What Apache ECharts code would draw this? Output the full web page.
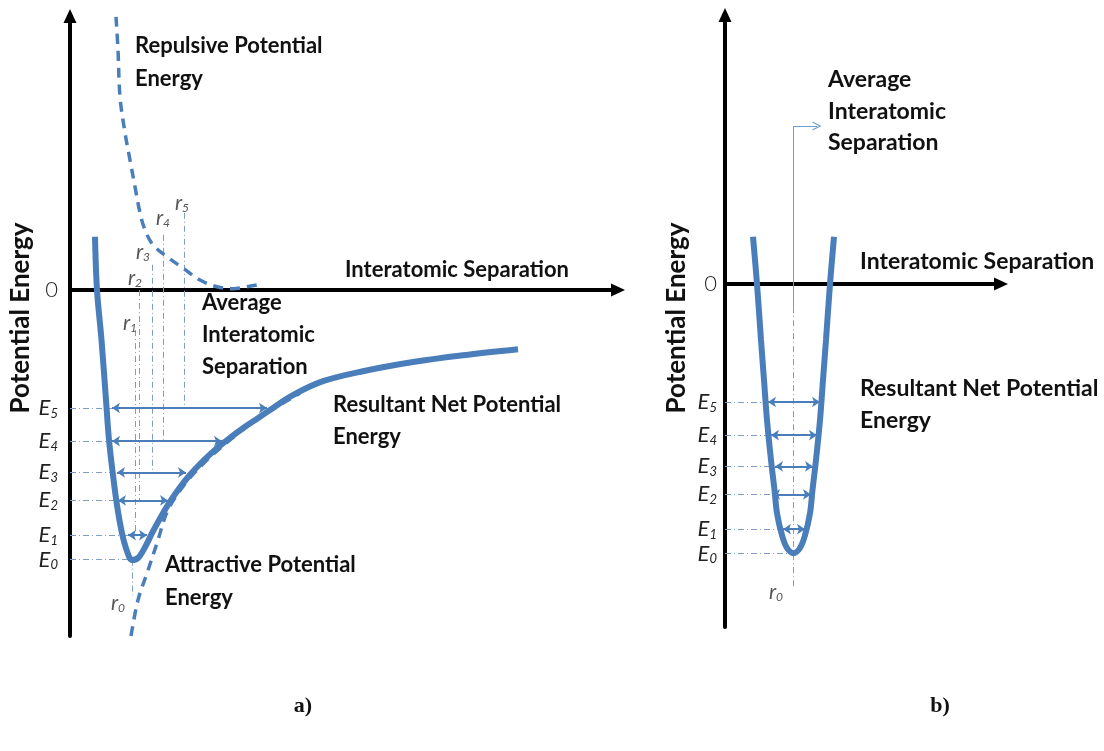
<!DOCTYPE html>
<html><head><meta charset="utf-8">
<script src="https://cdn.jsdelivr.net/npm/echarts@6/dist/echarts.min.js"></script>
<style>html,body{margin:0;padding:0;background:#fff}#c{width:1104px;height:751px}</style>
</head><body><div id="c"></div>
<script>
// ---------- Panel a data (x: separation units, y: energy units) ----------
const netA = [[0.5,1.33],[0.54,0],[0.63,-1.25],[0.72,-2.75],[0.78,-3.75],[0.86,-4.63],[0.94,-5.38],[1.04,-6.08],[1.14,-6.53],[1.24,-6.75],[1.36,-6.7],[1.5,-6.43],[1.64,-6.08],[1.8,-5.71],[2.0,-5.29],[2.2,-4.93],[2.4,-4.62],[2.6,-4.35],[2.8,-4.11],[3.0,-3.89],[3.25,-3.65],[3.5,-3.42],[3.75,-3.21],[4.0,-3.0],[4.44,-2.64],[5.06,-2.28],[5.86,-2.03],[6.86,-1.8],[7.86,-1.63],[8.96,-1.48]];
const repulsiveA = [[0.92,6.83],[0.96,6.0],[1.0,4.83],[1.1,3.93],[1.2,3.25],[1.3,2.58],[1.4,1.93],[1.5,1.5],[1.66,1.13],[1.94,0.83],[2.26,0.55],[2.6,0.25],[2.94,0.08],[3.26,0.03],[3.54,0.08],[3.76,0.13]];
const attractiveA = [[1.22,-8.65],[1.36,-7.75],[1.54,-7.08],[1.74,-6.33],[1.96,-5.5],[2.3,-4.85],[2.7,-4.3],[3.2,-3.75],[3.8,-3.18],[4.6,-2.58]];
const energyLevels = [-6.74,-6.13,-5.26,-4.56,-3.78,-2.95];          // E0..E5
const leaderEndA = [1.2,1.16,0.96,0.94,0.84,0.84];                    // E0..E5
const arrowLeftA = [1.16,0.96,0.94,0.84,0.84];                        // E1..E5 (tips)
const arrowRightA = [1.54,1.96,2.32,3.04,3.94];                       // E1..E5 (tips)
const rLineXA = [1.24,1.3,1.38,1.64,1.86,2.28];                       // r0..r5
const rLineTopA = [-6.74,-1.0,0,0.63,1.38,1.93];
const rLineBottomA = [-7.63,-6.13,-5.26,-4.56,-3.78,-2.95];
const rLabelA = [[0.96,-7.83],[1.2,-0.83],[1.3,0.3],[1.46,0.95],[1.86,1.8],[2.24,2.18]];

// ---------- Panel b data ----------
const netB = [[0.56,1.18],[0.64,0],[0.72,-1.4],[0.78,-2.4],[0.84,-3.4],[0.92,-4.4],[0.99,-5.15],[1.04,-5.73],[1.14,-6.28],[1.24,-6.6],[1.37,-6.73],[1.5,-6.6],[1.6,-6.28],[1.7,-5.73],[1.75,-5.15],[1.82,-4.4],[1.9,-3.4],[1.96,-2.4],[2.02,-1.4],[2.1,0],[2.18,1.18]];
const leaderEndB = [1.3,1.16,0.94,1.0,0.92,0.86];
const arrowLeftB = [1.16,0.94,1.0,0.92,0.86];
const arrowRightB = [1.6,1.72,1.76,1.84,1.9];
const r0LineB = [[1.37,-0.58],[1.37,-7.58]];
const r0LabelB = [1.02,-7.7];
const avgPointerB = [[1.37,-0.58],[1.37,3.95],[1.84,3.95]];
const labelIdx = ['0','1','2','3','4','5'];

const BLUE = '#4a7ebb';
const LEAD = '#7f9cc4';
const chev = 'path://M0,10 L5,0 L10,10 L8.6,10 L5,2.8 L1.4,10 Z';

function axisX(idx, max){
  return {type:'value', gridIndex:idx, min:0, max:max, splitLine:{show:false}, axisTick:{show:false}, axisLabel:{show:false},
    axisLine:{onZero:true, lineStyle:{color:'#000', width:4}, symbol:['none','triangle'], symbolSize:[13,14]}};
}
function axisY(idx, min, max, margin){
  return {type:'value', gridIndex:idx, min:min, max:max, splitLine:{show:false}, axisTick:{show:false},
    axisLine:{lineStyle:{color:'#000', width:4}, symbol:['none','triangle'], symbolSize:[13,14]},
    axisLabel:{customValues:[0].concat(energyLevels), margin:margin,
      formatter:function(v){ if(v===0) return '{z|0}'; const i=energyLevels.indexOf(v); return '{e|E}{s|'+labelIdx[i]+'}'; },
      rich:{
        z:{fontFamily:'Lato', fontWeight:300, fontSize:22, color:'#222'},
        e:{fontFamily:'Lato', fontStyle:'italic', fontWeight:'normal', fontSize:22, color:'#222', lineHeight:24},
        s:{fontFamily:'Lato', fontStyle:'italic', fontWeight:'normal', fontSize:13, color:'#222', lineHeight:14, verticalAlign:'bottom'}
      }}};
}
function hLines(levels, x0s, x1s){ return levels.map((e,i)=>({coords:[[x0s[i],e],[x1s[i],e]]})); }
const richR = {
  r:{fontFamily:'Lato', fontStyle:'italic', fontWeight:'normal', fontSize:21, color:'#2a2a2a', lineHeight:22},
  s:{fontFamily:'Lato', fontStyle:'italic', fontWeight:'normal', fontSize:12, color:'#2a2a2a', lineHeight:13, verticalAlign:'bottom'}
};
function rLabels(idx, pts, names){
  return {type:'scatter', xAxisIndex:idx, yAxisIndex:idx, symbolSize:1, clip:false, itemStyle:{color:'rgba(0,0,0,0)'},
    data: pts.map((p,i)=>[p[0],p[1],names[i]]),
    label:{show:true, position:'inside', formatter:p=>'{r|r}{s|'+p.data[2]+'}', rich:richR}, z:6};
}
const E15 = energyLevels.slice(1);
const curve = (idx, data, w, dashed, z) => ({type:'line', xAxisIndex:idx, yAxisIndex:idx, data:data, showSymbol:false, smooth:0.35,
  lineStyle:{width:w, color:BLUE, type: dashed ? [10,7] : 'solid'}, z:z});

const T = (text, x, y, size, extra) => ({type:'text', x:x, y:y, style:Object.assign({text:text, font:'bold '+size+'px Lato', fill:'#111', verticalAlign:'middle', align:'left'}, extra||{})});
const V = (text, x, y) => ({type:'text', x:x, y:y, rotation:Math.PI/2, style:{text:text, font:'bold 26px Lato', fill:'#111', verticalAlign:'middle', align:'center'}});

const option = {
  animation:false,
  grid:[{left:70, top:16, right:486, bottom:115}, {left:725, top:15, right:103, bottom:124}],
  xAxis:[axisX(0,10.96), axisX(1,5.52)],
  yAxis:[axisY(0,-8.65,6.85,12), axisY(1,-8.575,6.725,8)],
  series:[
    curve(0, netA, 6, false, 3),
    curve(0, repulsiveA, 3.5, true, 2),
    curve(0, attractiveA, 3.5, true, 2),
    {type:'lines', coordinateSystem:'cartesian2d', xAxisIndex:0, yAxisIndex:0, lineStyle:{width:1,color:LEAD,opacity:1,type:[6,3,1,3]},
      data: hLines(energyLevels, energyLevels.map(()=>0), leaderEndA), z:1},
    {type:'lines', coordinateSystem:'cartesian2d', xAxisIndex:0, yAxisIndex:0, lineStyle:{width:1,color:LEAD,opacity:1,type:[6,3,1,3]},
      data: rLineXA.map((x,i)=>({coords:[[x,rLineTopA[i]],[x,rLineBottomA[i]]]})), z:1},
    {type:'lines', coordinateSystem:'cartesian2d', xAxisIndex:0, yAxisIndex:0, symbol:['arrow','arrow'], symbolSize:8,
      lineStyle:{width:2,color:BLUE,opacity:1}, data: hLines(E15, arrowLeftA, arrowRightA), z:4},
    rLabels(0, rLabelA, labelIdx),

    curve(1, netB, 6, false, 3),
    {type:'lines', coordinateSystem:'cartesian2d', xAxisIndex:1, yAxisIndex:1, lineStyle:{width:1,color:LEAD,opacity:1,type:[6,3,1,3]},
      data: hLines(energyLevels, energyLevels.map(()=>0), leaderEndB).concat([{coords:r0LineB}]), z:1},
    {type:'lines', coordinateSystem:'cartesian2d', xAxisIndex:1, yAxisIndex:1, symbol:['arrow','arrow'], symbolSize:8,
      lineStyle:{width:2,color:BLUE,opacity:1}, data: hLines(E15, arrowLeftB, arrowRightB), z:4},
    {type:'lines', coordinateSystem:'cartesian2d', xAxisIndex:1, yAxisIndex:1, lineStyle:{width:1,color:'#6a9fd0',opacity:1},
      data:[{coords:[avgPointerB[0],avgPointerB[1]]}], z:2},
    {type:'lines', coordinateSystem:'cartesian2d', xAxisIndex:1, yAxisIndex:1, symbol:['none',chev], symbolSize:[8,9],
      lineStyle:{width:1,color:'#6a9fd0',opacity:1}, data:[{coords:[avgPointerB[1],avgPointerB[2]]}], z:2},
    rLabels(1, [r0LabelB], ['0'])
  ],
  graphic:[
    V('Potential Energy',21,318), V('Potential Energy',677,318),
    T('Repulsive Potential',135,46,22), T('Energy',135,79,22),
    T('Interatomic Separation',345,270,22),
    T('Average',202,303,22), T('Interatomic',202,335,22), T('Separation',202,367,22),
    T('Resultant Net Potential',333,405,22), T('Energy',333,437,22),
    T('Attractive Potential',165,565,22), T('Energy',165,598,22),
    T('Average',828,80,23), T('Interatomic',828,112,23), T('Separation',828,143,23),
    T('Interatomic Separation',860,262,23),
    T('Resultant Net Potential',860,389,23), T('Energy',860,421,23),
    T('a)',303,706,22,{font:'bold 22px "Liberation Serif"', align:'center'}),
    T('b)',940,706,22,{font:'bold 22px "Liberation Serif"', align:'center'})
  ]
};
const chart = echarts.init(document.getElementById('c'), null, {renderer:'canvas'});
chart.setOption(option);
</script></body></html>
